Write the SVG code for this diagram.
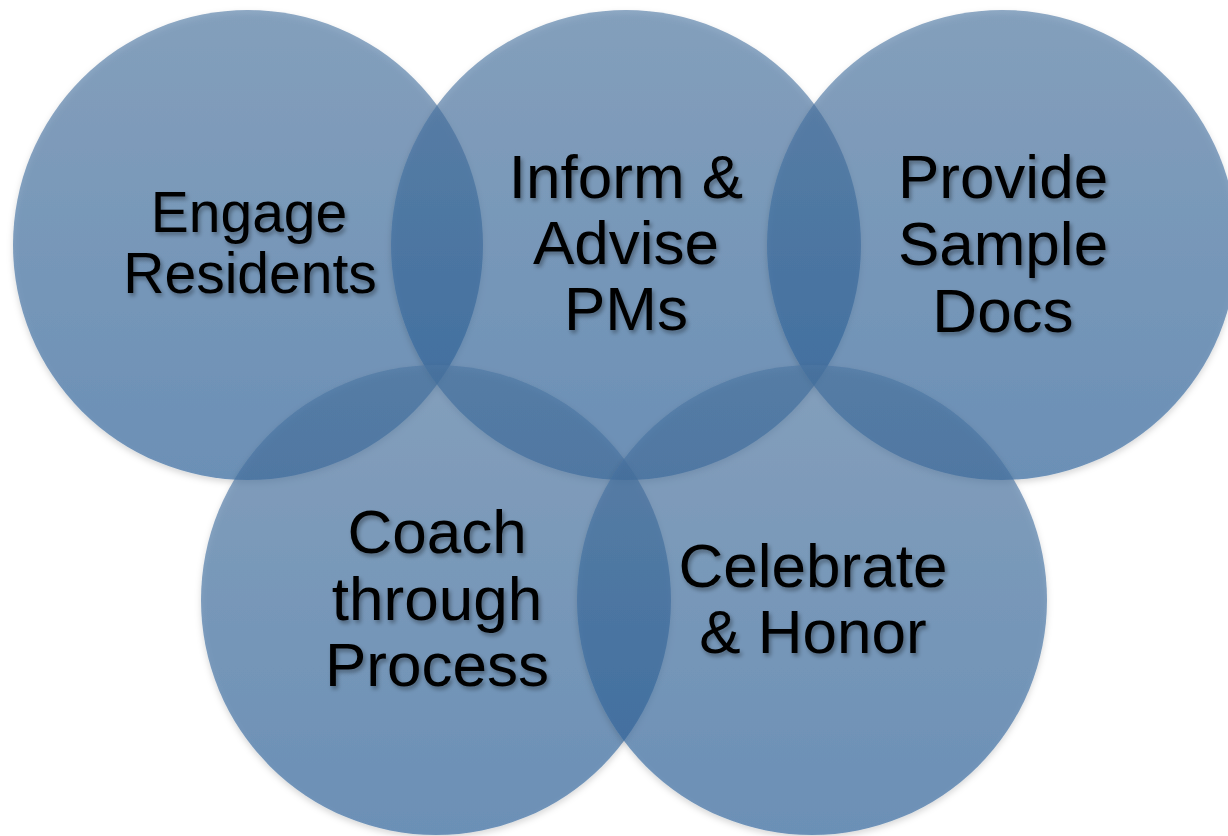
<svg xmlns="http://www.w3.org/2000/svg" width="1228" height="836" viewBox="0 0 1228 836">
<defs>
<linearGradient id="g" x1="0" y1="0" x2="0" y2="1">
<stop offset="0" stop-color="#4d76a2"/>
<stop offset="1" stop-color="#285f99"/>
</linearGradient>
<filter id="cs" x="-10%" y="-10%" width="120%" height="125%">
<feDropShadow dx="0" dy="3" stdDeviation="3" flood-color="#000" flood-opacity="0.25"/>
</filter>
<filter id="ts" x="-10%" y="-20%" width="120%" height="150%">
<feDropShadow dx="2" dy="3" stdDeviation="2" flood-color="#000" flood-opacity="0.35"/>
</filter>
</defs>
<style>
.c{fill:url(#g);fill-opacity:0.62;filter:url(#cs)}
.t{font-family:"Liberation Sans",Arial,sans-serif;fill:#000;text-anchor:middle;filter:url(#ts)}
</style>
<rect width="1228" height="836" fill="#fff"/>
<g id="connectors"/>
<g id="engage">
<circle class="c" cx="248" cy="245" r="235"/>
<text class="t" font-size="57"><tspan x="249" y="232">Engage</tspan><tspan x="250" y="293">Residents</tspan></text>
</g>
<g id="inform">
<circle class="c" cx="626" cy="245" r="235"/>
<text class="t" font-size="62"><tspan x="626" y="198">Inform &amp;</tspan><tspan x="626" y="264">Advise</tspan><tspan x="626" y="330">PMs</tspan></text>
</g>
<g id="provide">
<circle class="c" cx="1002" cy="245" r="235"/>
<text class="t" font-size="62"><tspan x="1003" y="198">Provide</tspan><tspan x="1003" y="265">Sample</tspan><tspan x="1003" y="332">Docs</tspan></text>
</g>
<g id="coach">
<circle class="c" cx="436" cy="600" r="235"/>
<text class="t" font-size="62"><tspan x="437" y="553">Coach</tspan><tspan x="437" y="620">through</tspan><tspan x="437" y="686">Process</tspan></text>
</g>
<g id="celebrate">
<circle class="c" cx="812" cy="600" r="235"/>
<text class="t" font-size="62"><tspan x="813" y="587">Celebrate</tspan><tspan x="813" y="653">&amp; Honor</tspan></text>
</g>
</svg>
